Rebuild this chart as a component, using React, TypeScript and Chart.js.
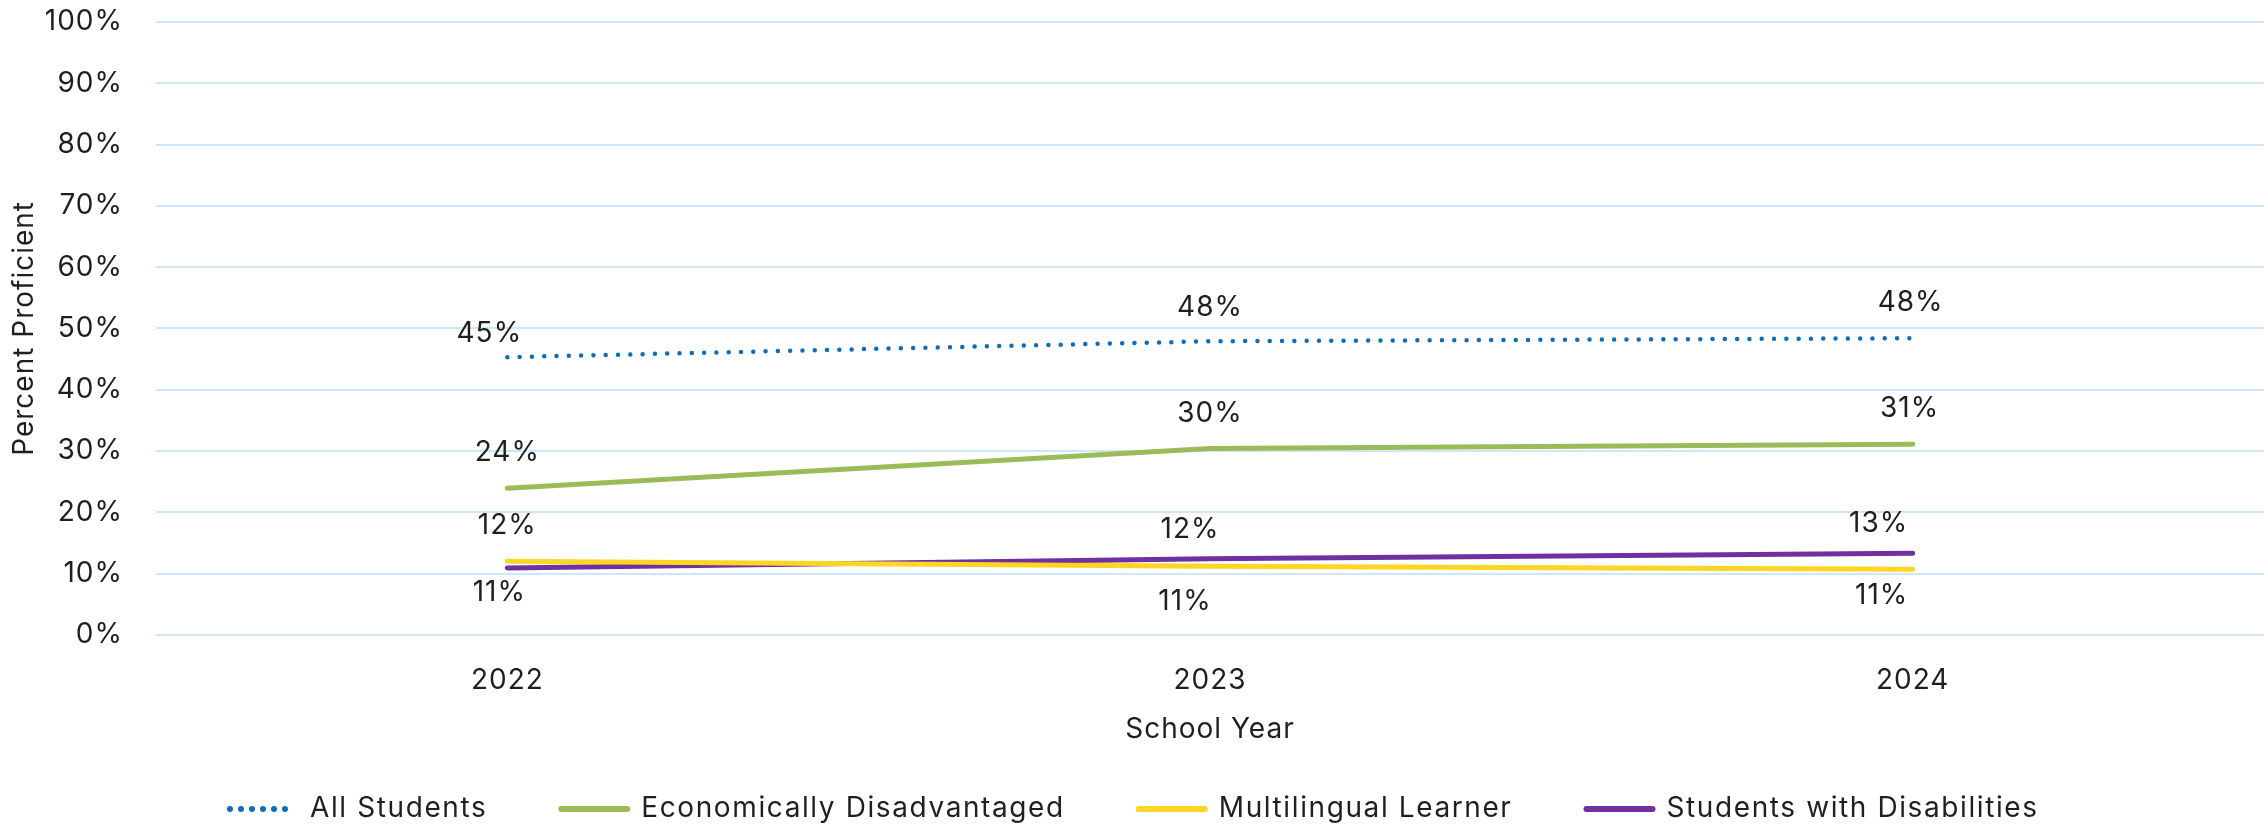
import React, { useEffect, useRef } from 'react';
import { Chart, registerables } from 'chart.js';

Chart.register(...registerables);

// ---- data ----
const years = ['2022', '2023', '2024'];
const allStudents = [45.3, 47.9, 48.4];
const econDisadvantaged = [23.9, 30.4, 31.1];
const multilingualLearner = [12.0, 11.2, 10.7];
const studentsWithDisabilities = [10.9, 12.4, 13.3];
const seriesNames = [
  'All Students',
  'Economically Disadvantaged',
  'Multilingual Learner',
  'Students with Disabilities',
];
const yTickValues = [0, 10, 20, 30, 40, 50, 60, 70, 80, 90, 100];

// ---- layout / style (label offsets from each point, px) ----
const labelOffsets: number[][][] = [
  [[-18, -24], [0, -34], [-2, -36]],
  [[0, -36], [0, -35], [-3, -36]],
  [[0, -36], [-25, 35], [-31, 26]],
  [[-8, 25], [-20, -29], [-34, -30]],
];
const FONT_FAMILY = 'Inter, "Open Sans", sans-serif';
const TEXT_COLOR = '#1f1f1f';
const GRID_COLOR = '#cfe5f8';
const BASE_SPACING = '1px';
const LEGEND_SPACING = '1.6px';

export default function App() {
  const ref = useRef<HTMLCanvasElement>(null);

  useEffect(() => {
    const canvas = ref.current;
    if (!canvas) return;
    const font = { family: FONT_FAMILY, size: 28, weight: 'normal' as const };

    const textStyle = {
      id: 'textStyle',
      beforeLayout(chart: any) {
        chart.ctx.letterSpacing = BASE_SPACING;
      },
      beforeDraw(chart: any) {
        chart.ctx.letterSpacing = BASE_SPACING;
        const lg = chart.legend;
        if (lg && !lg.__wrapped) {
          const orig = lg.draw.bind(lg);
          lg.draw = (...args: any[]) => {
            const c = chart.ctx;
            c.save();
            c.letterSpacing = LEGEND_SPACING;
            orig(...args);
            c.restore();
          };
          lg.__wrapped = true;
        }
      },
    };

    const pointLabels = {
      id: 'pointLabels',
      afterDatasetsDraw(chart: any) {
        const ctx = chart.ctx as any;
        ctx.save();
        ctx.letterSpacing = BASE_SPACING;
        ctx.font = `28px ${FONT_FAMILY}`;
        ctx.fillStyle = TEXT_COLOR;
        ctx.textAlign = 'center';
        ctx.textBaseline = 'middle';
        chart.data.datasets.forEach((ds: any, i: number) => {
          const meta = chart.getDatasetMeta(i);
          meta.data.forEach((pt: any, j: number) => {
            const [dx, dy] = labelOffsets[i][j];
            const v = ds.data[j] as number;
            ctx.fillText(`${Math.round(v)}%`, pt.x + dx, pt.y + dy);
          });
        });
        ctx.restore();
      },
    };

    const chart = new Chart(canvas, {
      type: 'line',
      data: {
        labels: years,
        datasets: [
          {
            label: seriesNames[0],
            data: allStudents,
            borderColor: '#0a6ebd',
            backgroundColor: '#0a6ebd',
            borderWidth: 4.5,
            borderDash: [0, 12.3],
            borderCapStyle: 'round',
            pointRadius: 0,
            tension: 0,
          },
          {
            label: seriesNames[1],
            data: econDisadvantaged,
            borderColor: '#9bbb59',
            backgroundColor: '#9bbb59',
            borderWidth: 5,
            borderCapStyle: 'round',
            pointRadius: 0,
            tension: 0,
          },
          {
            label: seriesNames[2],
            data: multilingualLearner,
            borderColor: '#fcd622',
            backgroundColor: '#fcd622',
            borderWidth: 5,
            borderCapStyle: 'round',
            pointRadius: 0,
            tension: 0,
          },
          {
            label: seriesNames[3],
            data: studentsWithDisabilities,
            borderColor: '#7030a0',
            backgroundColor: '#7030a0',
            borderWidth: 5,
            borderCapStyle: 'round',
            pointRadius: 0,
            tension: 0,
          },
        ],
      },
      options: {
        responsive: false,
        animation: false,
        layout: { padding: { top: 22, left: 0, right: 0, bottom: -8 } },
        scales: {
          x: {
            type: 'category',
            offset: true,
            grid: { display: false, drawTicks: false },
            border: { display: false },
            ticks: { padding: 29, color: TEXT_COLOR, font },
            title: {
              display: true,
              text: 'School Year',
              color: TEXT_COLOR,
              font,
              padding: { top: -14, bottom: -25 },
            },
          },
          y: {
            min: 0,
            max: 100,
            afterBuildTicks(scale: any) {
              scale.ticks = yTickValues.map((v) => ({ value: v }));
            },
            ticks: {
              padding: 4,
              color: TEXT_COLOR,
              font,
              callback: (v: any) => `${v}%`,
            },
            grid: {
              color: GRID_COLOR,
              lineWidth: 2,
              drawTicks: true,
              tickLength: 29,
              tickColor: 'rgba(0,0,0,0)',
            },
            border: { display: false },
            title: {
              display: true,
              text: 'Percent Proficient',
              color: TEXT_COLOR,
              font,
              padding: { top: 8, bottom: 0 },
            },
            afterFit(scale: any) {
              scale.width = 156;
            },
          },
        },
        plugins: {
          legend: {
            position: 'bottom',
            align: 'start',
            fullSize: false,
            labels: {
              usePointStyle: true,
              pointStyle: 'line',
              pointStyleWidth: 66,
              padding: 74,
              color: TEXT_COLOR,
              font,
              generateLabels: (c: any) =>
                c.data.datasets.map((ds: any, i: number) => ({
                  text: ds.label,
                  datasetIndex: i,
                  hidden: !c.isDatasetVisible(i),
                  fillStyle: ds.borderColor,
                  strokeStyle: ds.borderColor,
                  fontColor: TEXT_COLOR,
                  lineWidth: 6,
                  lineDash: ds.borderDash ? [0, 11] : [],
                  lineDashOffset: 0,
                  lineCap: 'round',
                  pointStyle: 'line',
                  rotation: 0,
                })),
            },
          },
          tooltip: { enabled: false },
        },
      },
      plugins: [textStyle, pointLabels],
    } as any);

    return () => chart.destroy();
  }, []);

  return (
    <div style={{ position: 'absolute', left: 0, top: 0, width: 2264, height: 825 }}>
      <canvas ref={ref} width={2264} height={825} style={{ display: 'block' }} />
    </div>
  );
}
